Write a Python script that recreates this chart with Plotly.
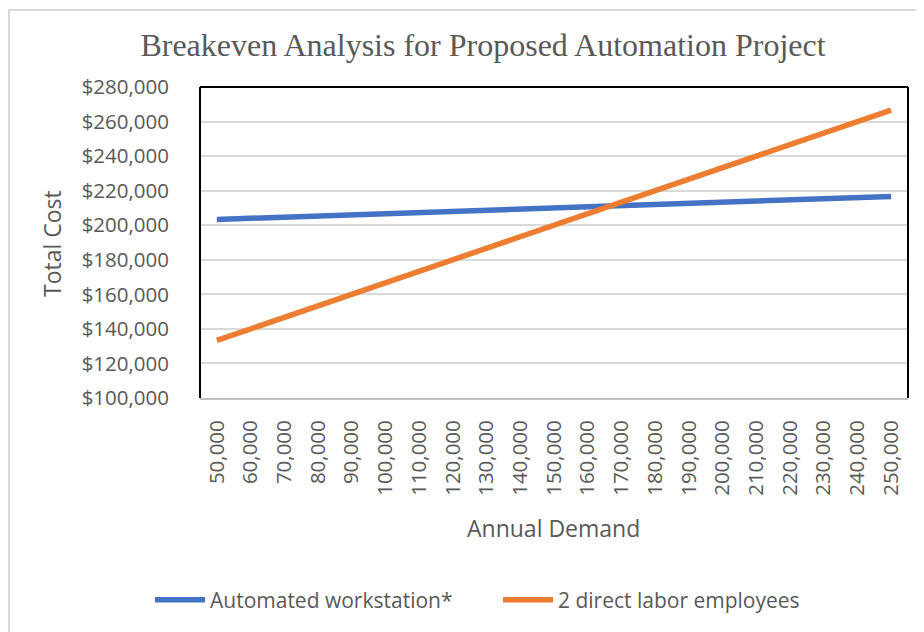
import plotly.graph_objects as go

demand = [50000, 60000, 70000, 80000, 90000, 100000, 110000, 120000, 130000, 140000,
          150000, 160000, 170000, 180000, 190000, 200000, 210000, 220000, 230000, 240000, 250000]
demand_labels = [f"{d:,}" for d in demand]
automated = [203333, 204000, 204667, 205333, 206000, 206667, 207333, 208000, 208667, 209333,
             210000, 210667, 211333, 212000, 212667, 213333, 214000, 214667, 215333, 216000, 216667]
labor = [133333, 140000, 146667, 153333, 160000, 166667, 173333, 180000, 186667, 193333,
         200000, 206667, 213333, 220000, 226667, 233333, 240000, 246667, 253333, 260000, 266667]
y_ticks = [100000, 120000, 140000, 160000, 180000, 200000, 220000, 240000, 260000, 280000]
y_tick_labels = [f"${v:,}" for v in y_ticks]

TXT = "#595959"
FONT = "Open Sans"

fig = go.Figure()
fig.add_trace(go.Scatter(x=demand_labels, y=automated, mode="lines", name="Automated workstation*",
                         line=dict(color="#4472C4", width=5.5)))
fig.add_trace(go.Scatter(x=demand_labels, y=labor, mode="lines", name="2 direct labor employees",
                         line=dict(color="#ED7D31", width=5.5)))

# page body offset (default 8px html body margin)
OFF = 8
W, H = 916, 624
# plot area in page pixels
PL, PR, PT, PB = 200, 908, 87, 398
L, R, T, B = PL - OFF, W - (PR - OFF), PT - OFF, H - (PB - OFF)
pw, ph = W - L - R, H - T - B

def px_x(p):
    return (p - OFF - L) / pw

def px_y(p):
    return (H - B - (p - OFF)) / ph

fig.update_layout(
    width=W, height=H,
    margin=dict(l=L, r=R, t=T, b=B),
    paper_bgcolor="white", plot_bgcolor="white",
    font=dict(family=FONT, color=TXT, size=20),
    title=dict(text="Breakeven Analysis for Proposed Automation Project",
               font=dict(family="Liberation Serif", size=32, color=TXT),
               x=(483 - OFF) / W, xanchor="center", y=1 - (45 - OFF) / H, yanchor="middle"),
    xaxis=dict(type="category", range=[-0.5, len(demand) - 0.5], tickangle=-90,
               showgrid=False, showline=True, linecolor="#bfbfbf", linewidth=2,
               ticks="", ticklabelstandoff=12, tickfont=dict(size=20.5, color=TXT, family=FONT)),
    yaxis=dict(range=[100000, 280000], tickvals=y_ticks, ticktext=y_tick_labels,
               showgrid=True, gridcolor="#d9d9d9", gridwidth=1.5, zeroline=False,
               showline=False, ticks="", ticklabelstandoff=30,
               tickfont=dict(size=20.5, color=TXT, family=FONT)),
    showlegend=True,
    legend=dict(orientation="h", x=px_x(498), xanchor="center", y=px_y(600), yanchor="middle",
                font=dict(size=21, color=TXT, family=FONT), itemwidth=50,
                entrywidth=283, bgcolor="rgba(0,0,0,0)", traceorder="normal"),
    annotations=[
        dict(text="Total Cost", xref="paper", yref="paper", x=px_x(52), y=px_y(244),
             textangle=-90, showarrow=False, xanchor="center", yanchor="middle",
             font=dict(size=23, color=TXT, family=FONT)),
        dict(text="Annual Demand", xref="paper", yref="paper", x=px_x(553), y=px_y(528),
             showarrow=False, xanchor="center", yanchor="middle",
             font=dict(size=23, color=TXT, family=FONT)),
    ],
    shapes=[
        # outer chart border
        dict(type="rect", xref="paper", yref="paper", x0=px_x(9), x1=px_x(960),
             y0=px_y(680), y1=px_y(10), line=dict(color="#d9d9d9", width=2), layer="below"),
        # plot-area border (top, left, right)
        dict(type="line", xref="paper", yref="paper", x0=0, x1=1, y0=1, y1=1,
             line=dict(color="black", width=2)),
        dict(type="line", xref="paper", yref="paper", x0=0, x1=0, y0=0, y1=1,
             line=dict(color="black", width=2)),
        dict(type="line", xref="paper", yref="paper", x0=1, x1=1, y0=0, y1=1,
             line=dict(color="black", width=2)),
    ],
)

fig.write_html("out.html")
